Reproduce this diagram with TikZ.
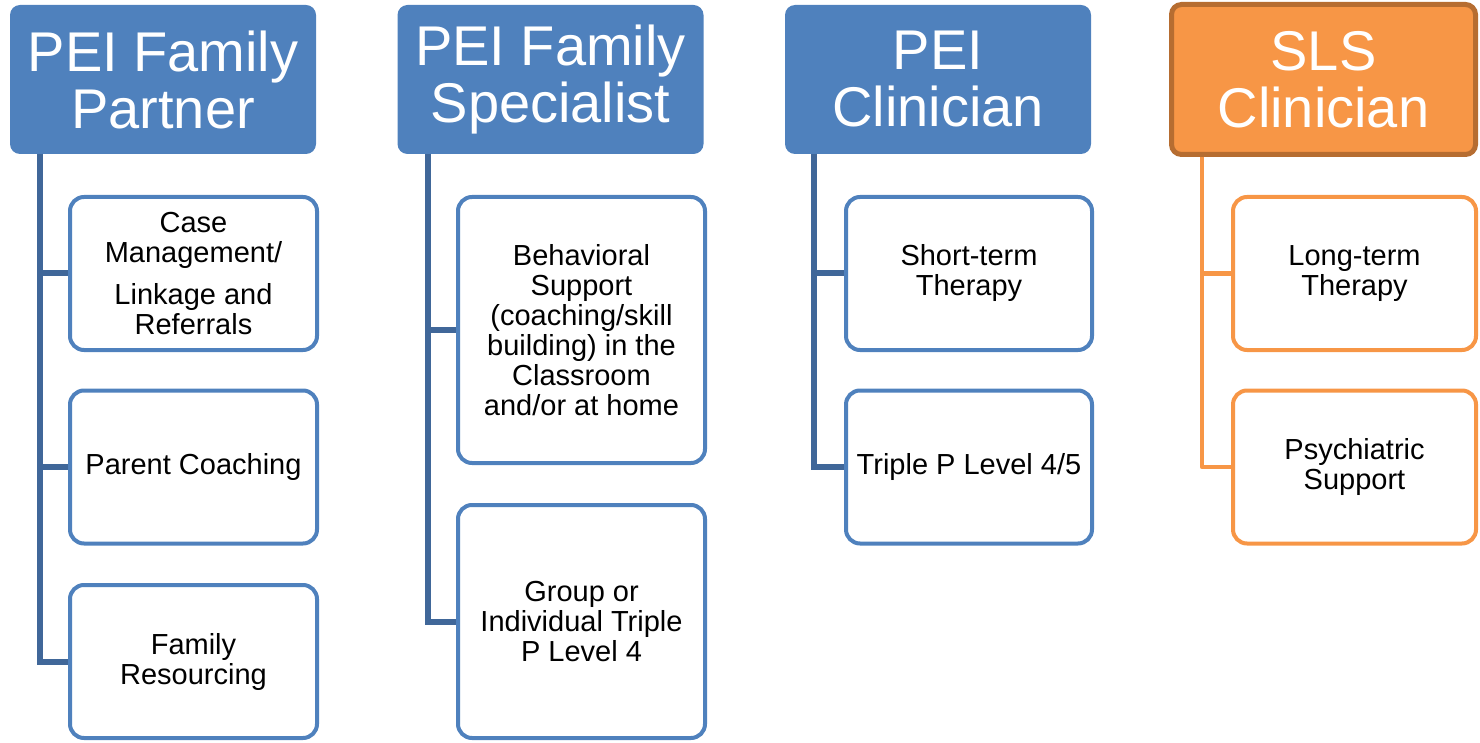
\documentclass[tikz,border=0pt]{standalone}
\usepackage{fontspec}
\setmainfont{Liberation Sans}
\usetikzlibrary{positioning}
\definecolor{peiblue}{RGB}{79,129,189}
\definecolor{trunkblue}{RGB}{64,103,153}
\definecolor{slsorange}{RGB}{247,150,70}
\definecolor{slsborder}{RGB}{182,109,49}

\begin{document}
\begin{tikzpicture}[x=1pt, y=-1pt,
  headbox/.style={fill=peiblue, text=white, rounded corners=10pt, minimum width=306pt,
    minimum height=149pt, inner sep=0pt, align=center, font=\fontsize{56}{57}\selectfont},
  slshead/.style={headbox, fill=slsorange, draw=slsborder, line width=5pt,
    minimum width=304pt, minimum height=150pt},
  itembox/.style={draw=peiblue, line width=4pt, fill=white, rounded corners=14pt,
    minimum width=247pt, minimum height=153pt, inner sep=0pt, align=center,
    font=\fontsize{29}{30}\selectfont},
  slsitem/.style={itembox, draw=slsorange, minimum width=243pt},
  trunk/.style={trunkblue, line width=6pt},
  slstrunk/.style={slsorange, line width=4.5pt, line join=round}]
  \useasboundingbox (0,0) rectangle (1480,743);
  % Headers
  \node[headbox] (h1) at (163,79.5) {PEI Family\\Partner};
  \node[headbox] (h2) at (550.5,79.5) {PEI Family\\Specialist};
  \node[headbox] (h3) at (938,79.5) {PEI\\Clinician};
  \node[slshead] (h4) at (1323.5,79.5) {SLS\\Clinician};
  % Trunk tops
  \coordinate (t1) at (40,154);
  \coordinate (t2) at (428,154);
  \coordinate (t3) at (814,154);
  \coordinate (t4) at (1202,157);
  % Family Partner
  \node[itembox] (c1) at (193.5,273.5) {Case\\Management/\\[12pt]Linkage and\\Referrals};
  \node[itembox] (c2) at (193.5,467) {Parent Coaching};
  \node[itembox] (c3) at (193.5,661.5) {Family\\Resourcing};
  % Family Specialist
  \node[itembox, minimum height=266pt] (d1) at (581.5,330)
    {Behavioral\\Support\\(coaching/skill\\building) in the\\Classroom\\and/or at home};
  \node[itembox, minimum height=233pt] (d2) at (581.5,621.5)
    {Group or\\Individual Triple\\P Level 4};
  % Clinician
  \node[itembox, minimum width=246pt] (e1) at (969,273.5) {Short-term\\Therapy};
  \node[itembox, minimum width=246pt] (e2) at (969,467) {Triple P Level 4/5};
  % SLS
  \node[slsitem] (f1) at (1354.5,273.5) {Long-term\\Therapy};
  \node[slsitem] (f2) at (1354.5,467) {Psychiatric\\Support};
  % Connectors
  \foreach \c in {c1,c2,c3} \draw[trunk] (t1) |- (\c.west);
  \foreach \c in {d1,d2} \draw[trunk] (t2) |- (\c.west);
  \foreach \c in {e1,e2} \draw[trunk] (t3) |- (\c.west);
  \foreach \c in {f1,f2} \draw[slstrunk] (t4) |- (\c.west);
\end{tikzpicture}
\end{document}
